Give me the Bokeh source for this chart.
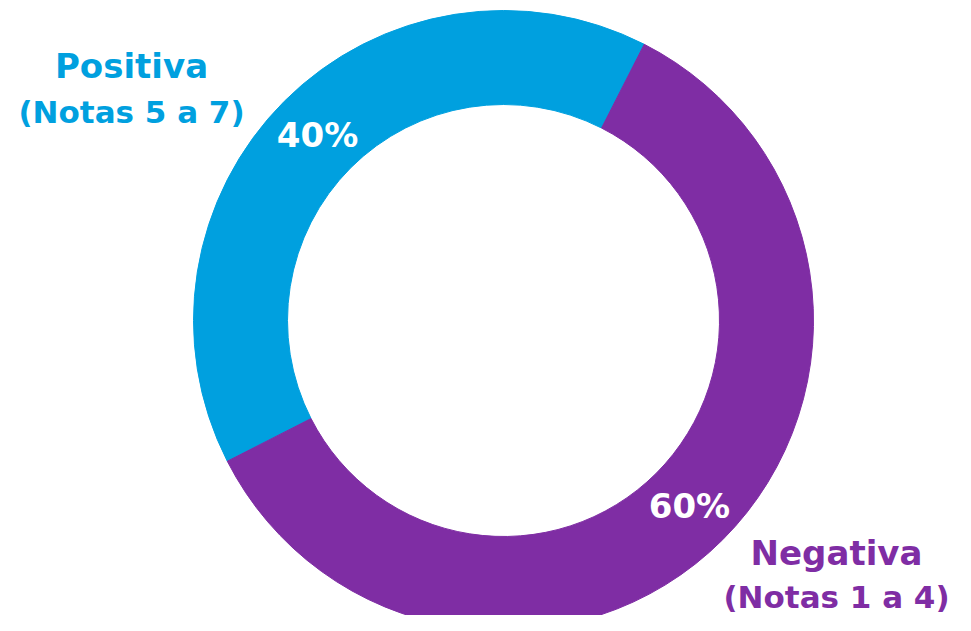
import math
from bokeh.plotting import figure
from bokeh.models import Range1d, ColumnDataSource
from bokeh.core.properties import value
from bokeh.embed import file_html
from bokeh.resources import INLINE

categories = ["Positiva", "Negativa"]
sublabels = ["(Notas 5 a 7)", "(Notas 1 a 4)"]
shares = [40, 60]
colors = ["#00A0DF", "#7F2DA4"]

W, H = 955, 615
p = figure(width=W, height=H, output_backend="svg", toolbar_location=None,
           x_range=Range1d(0, W), y_range=Range1d(-H, 0),
           min_border=0)
p.axis.visible = False
p.grid.visible = False
p.outline_line_color = None
p.background_fill_color = "white"

cx, cy = 503, -320
r_out, r_in = 310, 216
start0 = math.radians(63)  # start of first slice (ccw from east)

starts, ends, mids = [], [], []
a = start0
for s in shares:
    da = s / 100 * 2 * math.pi
    starts.append(a)
    ends.append(a + da)
    mids.append(a + da / 2)
    a += da

src = ColumnDataSource(dict(start=starts, end=ends, color=colors))
p.annular_wedge(x=cx, y=cy, inner_radius=r_in, outer_radius=r_out,
                start_angle="start", end_angle="end", direction="anticlock",
                fill_color="color", line_color="color", line_width=1, source=src)

r_mid = (r_in + r_out) / 2
px = [cx + r_mid * math.cos(m) for m in mids]
py = [cy + r_mid * math.sin(m) for m in mids]
p.text(x=px, y=py, text=[f"{s}%" for s in shares], text_color="white",
       text_font=value("DejaVu Sans"), text_font_style="bold",
       text_font_size="34px", text_align="center", text_baseline="middle")

# category labels
lab_x = [131, 836]
lab_y1 = [-65, -552]
lab_y2 = [-111, -596]
p.text(x=lab_x, y=lab_y1, text=categories, text_color=colors,
       text_font=value("DejaVu Sans"), text_font_style="bold",
       text_font_size="34px", text_align="center", text_baseline="alphabetic")
p.text(x=lab_x, y=lab_y2, text=sublabels, text_color=colors,
       text_font=value("DejaVu Sans"), text_font_style="bold",
       text_font_size="31px", text_align="center", text_baseline="alphabetic")

open("out.html", "w").write(file_html(p, INLINE))
